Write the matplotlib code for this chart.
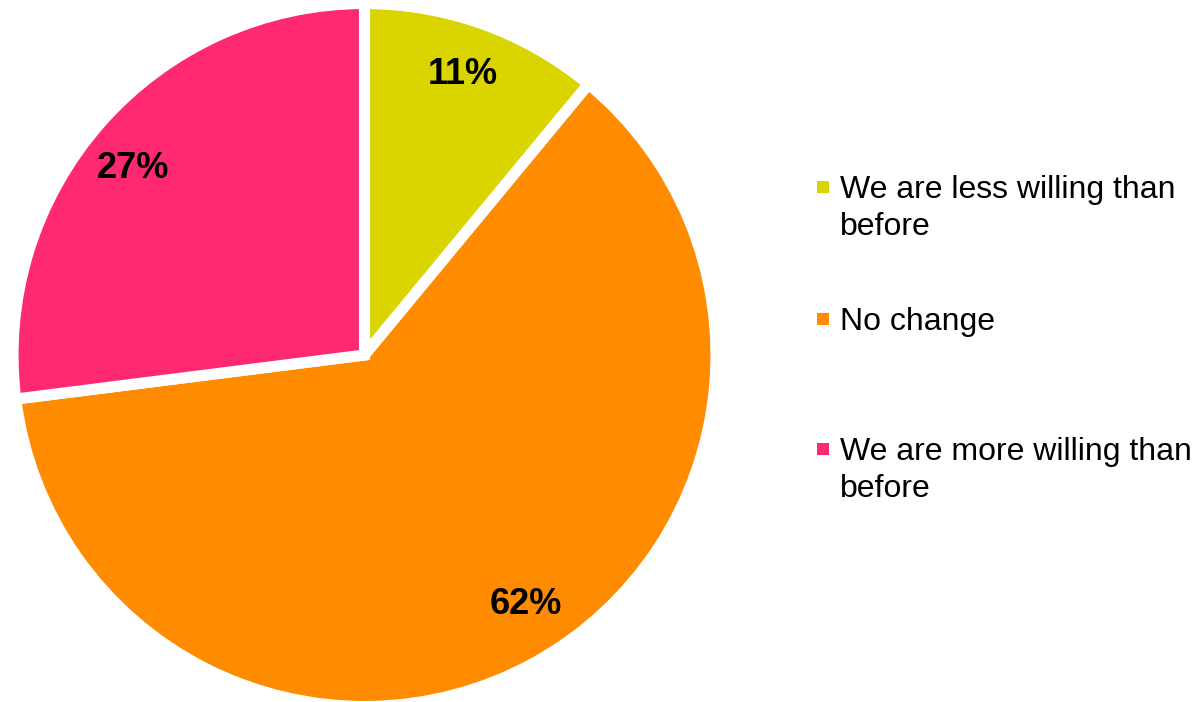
import numpy as np
import matplotlib.pyplot as plt
from matplotlib.patches import Rectangle

plt.rcParams['font.family'] = ['Liberation Sans', 'DejaVu Sans']

categories = ['We are less willing than\nbefore', 'No change',
              'We are more willing than\nbefore']
shares = [11, 62, 27]
colors = ['#DAD400', '#FF8B00', '#FF2971']

W, H = 1202, 702
fig = plt.figure(figsize=(W / 100, H / 100), dpi=100)
fig.patch.set_facecolor('white')

# pie axes: outer radius ~347 px after the white edge, centred at (364, 355)
R = 351.5
cx, cy = 364.5, 355
ax = fig.add_axes([(cx - R) / W, (H - cy - R) / H, 2 * R / W, 2 * R / H])
wedges, _, pct_texts = ax.pie(
    shares, colors=colors, startangle=90, counterclock=False, radius=1.0,
    autopct=lambda p: '%d%%' % round(p), pctdistance=0.85,
    wedgeprops=dict(edgecolor='white', linewidth=8),
    textprops=dict(fontsize=26, fontweight='bold', color='black'))

# nudge the percentage labels a little around the rim
label_shift = [0.5, 4.0, 2.5]
for w, t, d in zip(wedges, pct_texts, label_shift):
    ang = np.deg2rad((w.theta1 + w.theta2) / 2 + d)
    t.set_position((0.845 * np.cos(ang), 0.845 * np.sin(ang)))

ax.set_xlim(-1, 1)
ax.set_ylim(-1, 1)
ax.set_aspect('equal')
ax.axis('off')

# legend drawn by hand so each key sits on the first line of its label
line_step = 37
first_baselines = [198, 330, 460]
for label, color, yb in zip(categories, colors, first_baselines):
    nlines = label.count('\n') + 1
    fig.patches.append(Rectangle((817 / W, (H - yb + 5) / H), 12 / W, 12 / H,
                                 transform=fig.transFigure, facecolor=color,
                                 edgecolor='none'))
    last_baseline = yb + line_step * (nlines - 1)
    fig.text(840 / W, (H - last_baseline) / H, label, fontsize=23,
             va='baseline', ha='left', color='black', linespacing=1.32)

fig.savefig('out.png', dpi=100, facecolor='white')
